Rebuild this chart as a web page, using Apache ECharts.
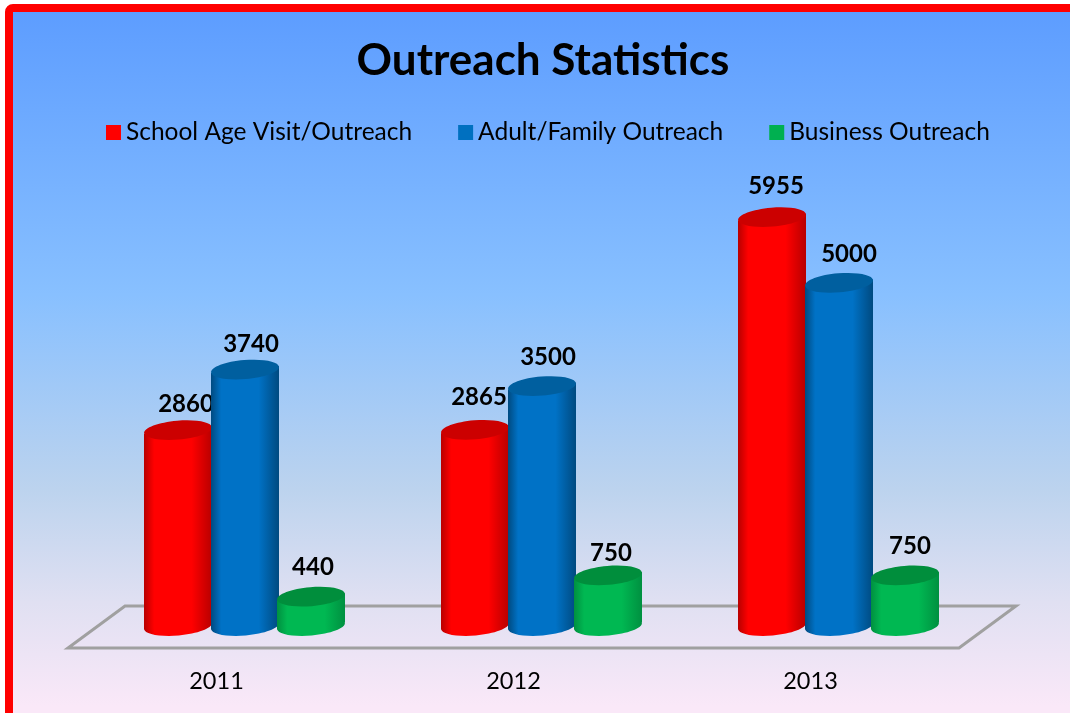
<!DOCTYPE html>
<html>
<head>
<meta charset="utf-8">
<title>Outreach Statistics</title>
<script src="https://cdn.jsdelivr.net/npm/echarts@6/dist/echarts.min.js"></script>
<style>
  html, body { margin: 0; padding: 0; background: #fff; overflow: hidden; }
  #chart { width: 1070px; height: 713px; }
</style>
</head>
<body>
<div id="chart"></div>
<script>
const years = ['2011', '2012', '2013'];
const schoolAge = [2860, 2865, 5955];
const adultFamily = [3740, 3500, 5000];
const business = [440, 750, 750];

// label nudges per year, the original labels were placed by hand
const schoolNudge = [[8, -26], [4, -33], [4, -31]];
const adultNudge = [[6, -25], [6, -29], [10, -29]];
const businessNudge = [[2, -29], [3, -22], [5, -29]];

const FONT = 'Lato, "Noto Sans", sans-serif';
const BAR_RX = 34;
const BAR_RY = 9.5;
const TILT = 3.5; // right side of the ellipse sits higher

const chart = echarts.init(document.getElementById('chart'));

function cylinder(xOffset, edge, mid, lid, nudges) {
  return function (params, api) {
    const top = api.coord([api.value(0), api.value(1)]);
    const base = api.coord([api.value(0), 0]);
    const cx = top[0] + xOffset;
    const fill = new echarts.graphic.LinearGradient(0, 0, 1, 0, [
      { offset: 0, color: edge },
      { offset: 0.15, color: mid },
      { offset: 0.7, color: mid },
      { offset: 1, color: edge }
    ]);
    const ellipse = (cy, color) => ({
      type: 'ellipse',
      shape: { cx: cx, cy: cy, rx: BAR_RX, ry: BAR_RY },
      rotation: TILT * Math.PI / 180 * 1.4,
      originX: cx,
      originY: cy,
      style: { fill: color }
    });
    const nudge = nudges[params.dataIndex];
    return {
      type: 'group',
      children: [
        ellipse(base[1] - 1, fill),
        {
          type: 'polygon',
          shape: {
            points: [
              [cx - BAR_RX, top[1] + TILT],
              [cx + BAR_RX, top[1] - TILT],
              [cx + BAR_RX, base[1] - 1 - TILT],
              [cx - BAR_RX, base[1] - 1 + TILT]
            ]
          },
          style: { fill: fill }
        },
        ellipse(top[1], lid),
        {
          type: 'text',
          style: {
            text: String(api.value(1)),
            x: cx + nudge[0],
            y: top[1] + nudge[1],
            align: 'center',
            verticalAlign: 'middle',
            font: 'bold 24px ' + FONT,
            fill: '#000'
          }
        }
      ]
    };
  };
}

function floorItem(params) {
  const g = params.coordSys;
  const baseY = g.y + g.height;
  return {
    type: 'polygon',
    shape: {
      points: [
        [g.x, baseY + 21],
        [g.x + g.width, baseY + 21],
        [g.x + g.width + 57, baseY - 21],
        [g.x + 57, baseY - 21]
      ]
    },
    style: { fill: 'none', stroke: '#a0a0a0', lineWidth: 3 }
  };
}

function points(values) {
  return values.map((v, i) => [i, v]);
}

const option = {
  animation: false,
  graphic: [{
    type: 'rect',
    z: -10,
    silent: true,
    shape: { x: 9, y: 8, width: 1100, height: 800, r: 4 },
    style: {
      fill: new echarts.graphic.LinearGradient(0, 0, 0, 1, [
        { offset: 0, color: '#5c9cff' },
        { offset: 0.36, color: '#88c0ff' },
        { offset: 0.6, color: '#bcd3ee' },
        { offset: 0.74, color: '#e0e0f2' },
        { offset: 0.87, color: '#fae8f8' },
        { offset: 1, color: '#fae8f8' }
      ]),
      stroke: '#ff0000',
      lineWidth: 8
    }
  }],
  title: {
    text: 'Outreach Statistics',
    left: 538,
    top: 34,
    textAlign: 'center',
    textStyle: { fontFamily: FONT, fontSize: 44, fontWeight: 'bold', color: '#000' }
  },
  legend: {
    left: 101,
    top: 115,
    itemWidth: 15,
    itemHeight: 15,
    itemGap: 46,
    icon: 'rect',
    data: ['School Age Visit/Outreach', 'Adult/Family Outreach', 'Business Outreach'],
    textStyle: { fontFamily: FONT, fontSize: 24.5, color: '#000' }
  },
  grid: { left: 68, top: 214, width: 891, height: 413 },
  xAxis: {
    type: 'category',
    data: years,
    axisLine: { show: false },
    axisTick: { show: false },
    axisLabel: { margin: 42, fontFamily: FONT, fontSize: 23.5, color: '#000' }
  },
  yAxis: { type: 'value', min: 0, max: 6000, show: false },
  series: [
    {
      name: 'floor',
      type: 'custom',
      silent: true,
      data: [[0, 0]],
      encode: { x: 0, y: 1 },
      renderItem: floorItem,
      z: 1
    },
    {
      name: 'School Age Visit/Outreach',
      type: 'custom',
      data: points(schoolAge),
      encode: { x: 0, y: 1 },
      itemStyle: { color: '#ff0000' },
      renderItem: cylinder(-38.5, '#b80000', '#ff0000', '#cc0000', schoolNudge),
      clip: false,
      z: 2
    },
    {
      name: 'Adult/Family Outreach',
      type: 'custom',
      data: points(adultFamily),
      encode: { x: 0, y: 1 },
      itemStyle: { color: '#0070c0' },
      renderItem: cylinder(28.5, '#004a80', '#0072c6', '#005f9f', adultNudge),
      clip: false,
      z: 3
    },
    {
      name: 'Business Outreach',
      type: 'custom',
      data: points(business),
      encode: { x: 0, y: 1 },
      itemStyle: { color: '#00b050' },
      renderItem: cylinder(94.5, '#009040', '#00b852', '#008e3c', businessNudge),
      clip: false,
      z: 4
    }
  ]
};

chart.setOption(option);
</script>
</body>
</html>
